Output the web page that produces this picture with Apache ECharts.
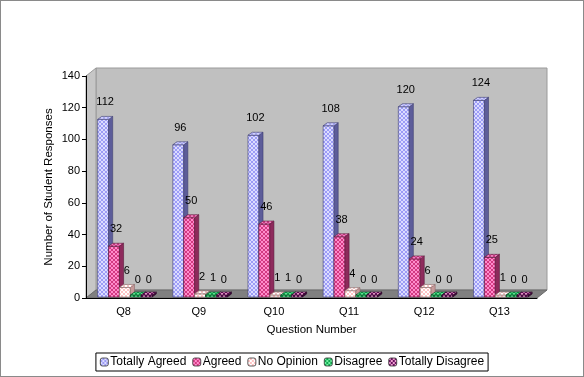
<!DOCTYPE html>
<html>
<head>
<meta charset="utf-8">
<script src="https://cdn.jsdelivr.net/npm/echarts@6/dist/echarts.min.js"></script>
<style>
  html, body { margin: 0; padding: 0; background: #fff; }
  #chart { width: 582px; height: 375px; border: 1px solid #8a8a8a; }
</style>
</head>
<body>
<div id="chart"></div>
<script>
var questions = ['Q8', 'Q9', 'Q10', 'Q11', 'Q12', 'Q13'];
var totallyAgreed = [112, 96, 102, 108, 120, 124];
var agreed = [32, 50, 46, 38, 24, 25];
var noOpinion = [6, 2, 1, 4, 6, 1];
var disagree = [0, 1, 1, 0, 0, 0];
var totallyDisagree = [0, 0, 0, 0, 0, 0];
var yTicks = [0, 20, 40, 60, 80, 100, 120, 140];

// layout of the plot box (front face) and the 3d depth
var G = { left: 85, top: 75, width: 451, height: 222 };
var DX = 10, DY = 8;

function makePattern(c1, c2) {
  var cv = document.createElement('canvas');
  cv.width = 4; cv.height = 4;
  var ctx = cv.getContext('2d');
  ctx.fillStyle = c1; ctx.fillRect(0, 0, 4, 4);
  ctx.fillStyle = c2; ctx.fillRect(0, 0, 2, 2); ctx.fillRect(2, 2, 2, 2);
  return { image: cv, repeat: 'repeat' };
}

var styles = [
  { front: makePattern('#9c9cf6', '#dcdcff'), top: makePattern('#a8a8f0', '#d0d0ff'), side: '#5d5d9a', line: '#3e3e70' },
  { front: makePattern('#d23a82', '#ff8ccc'), top: makePattern('#c83a80', '#f080c0'), side: '#8e2a5c', line: '#5a1a3a' },
  { front: makePattern('#ffc4c4', '#ffffff'), top: makePattern('#f0c0c0', '#ffffff'), side: '#c89a9a', line: '#8a6a6a' },
  { front: makePattern('#10a850', '#70f0a0'), top: makePattern('#10a850', '#60e090'), side: '#0a6a34', line: '#064020' },
  { front: makePattern('#6a1060', '#f0a0d0'), top: makePattern('#6a1060', '#e090c0'), side: '#400a3a', line: '#2a0626' }
];

function renderBar(params, api) {
  var s = params.seriesIndex;
  var st = styles[s];
  var cat = api.value(0), v = api.value(1);
  var band = api.size([1, 0])[0];
  var w = band * 0.145;
  var d = w * 0.38, dy = 3;
  var base = api.coord([cat, 0]);
  var top = api.coord([cat, v]);
  var x0 = base[0] - band / 2 + band * 0.155 + s * w;
  var yB = base[1] - 1;
  var yT = Math.min(top[1] - 1, yB - 2);
  return {
    type: 'group',
    children: [
      { type: 'rect', shape: { x: x0, y: yT, width: w, height: yB - yT },
        style: { fill: st.front, stroke: st.line, lineWidth: 0.6 } },
      { type: 'polygon', shape: { points: [[x0 + w, yT], [x0 + w + d, yT - dy], [x0 + w + d, yB - dy], [x0 + w, yB]] },
        style: { fill: st.side, stroke: st.line, lineWidth: 0.6 } },
      { type: 'polygon', shape: { points: [[x0, yT], [x0 + d, yT - dy], [x0 + w + d, yT - dy], [x0 + w, yT]] },
        style: { fill: st.top, stroke: st.line, lineWidth: 0.6 } },
      { type: 'text', x: x0 + w / 2 + 2, y: top[1] - 18,
        style: { text: String(v), fill: '#000', font: '11px "Liberation Sans", Arial, sans-serif', align: 'center', verticalAlign: 'middle' } }
    ]
  };
}

function toData(arr) {
  return arr.map(function (v, i) { return [i, v]; });
}

var names = ['Totally Agreed', 'Agreed', 'No Opinion', 'Disagree', 'Totally Disagree'];
var values = [totallyAgreed, agreed, noOpinion, disagree, totallyDisagree];

var chart = echarts.init(document.getElementById('chart'));
var option = {
  animation: false,
  textStyle: { fontFamily: '"Liberation Sans", Arial, sans-serif' },
  grid: { left: G.left, top: G.top, width: G.width, height: G.height },
  graphic: [
    { type: 'rect', z: 0, shape: { x: G.left + DX, y: G.top - DY, width: G.width, height: G.height },
      style: { fill: '#c0c0c0', stroke: '#9a9a9a', lineWidth: 1 } },
    { type: 'polygon', z: 0, shape: { points: [[G.left, G.top], [G.left + DX, G.top - DY], [G.left + DX, G.top + G.height - DY], [G.left, G.top + G.height]] },
      style: { fill: '#c6c6c6', stroke: '#9a9a9a', lineWidth: 1 } },
    { type: 'polygon', z: 0, shape: { points: [[G.left, G.top + G.height], [G.left + G.width, G.top + G.height], [G.left + G.width + DX, G.top + G.height - DY], [G.left + DX, G.top + G.height - DY]] },
      style: { fill: '#808080', stroke: '#6a6a6a', lineWidth: 1 } }
  ],
  legend: {
    data: names,
    left: 'center',
    top: 352,
    itemWidth: 8,
    itemHeight: 8,
    itemGap: 6,
    padding: [3, 4],
    borderColor: '#000',
    borderWidth: 1,
    textStyle: { fontSize: 12, color: '#000', padding: [0, 0, 0, -3] },
    itemStyle: { borderColor: '#333', borderWidth: 0.8 }
  },
  xAxis: {
    type: 'category',
    data: questions,
    name: 'Question Number',
    nameLocation: 'middle',
    nameGap: 26,
    nameTextStyle: { fontSize: 11.5, color: '#000' },
    axisLine: { lineStyle: { color: '#000', width: 1 } },
    axisTick: { length: 4, lineStyle: { color: '#000' } },
    axisLabel: { fontSize: 11, color: '#000', margin: 8 }
  },
  yAxis: {
    type: 'value',
    min: yTicks[0],
    max: yTicks[yTicks.length - 1],
    interval: yTicks[1] - yTicks[0],
    name: 'Number of Student Responses',
    nameLocation: 'middle',
    nameGap: 31,
    nameMoveOverlap: false,
    nameTextStyle: { fontSize: 11.5, color: '#000' },
    axisLine: { show: true, lineStyle: { color: '#000', width: 1 } },
    axisTick: { show: true, length: 4, lineStyle: { color: '#000' } },
    axisLabel: { fontSize: 11, color: '#000', margin: 6 },
    splitLine: { show: false }
  },
  series: names.map(function (n, i) {
    return {
      name: n,
      type: 'custom',
      renderItem: renderBar,
      itemStyle: { color: styles[i].front },
      data: toData(values[i]),
      z: 5
    };
  })
};
chart.setOption(option);
</script>
</body>
</html>
